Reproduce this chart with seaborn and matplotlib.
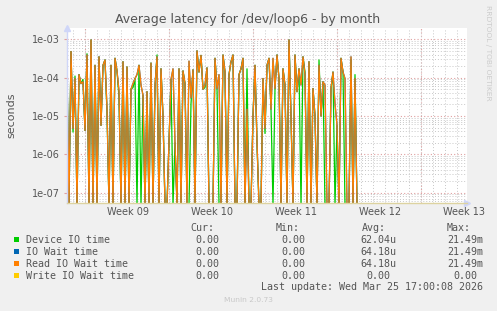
import numpy as np
import pandas as pd
import matplotlib
matplotlib.use("Agg")
import matplotlib.pyplot as plt
from matplotlib.patches import Rectangle
from matplotlib.ticker import LogLocator, NullFormatter
import seaborn as sns

# ---------------- data (4-hour samples) ----------------
step_days = 1.0 / 6.0

read_io_wait = [
    1.6e-4, 0, 4.8e-4, 4.7e-6, 9.5e-5, 0, 1.2e-4, 7.0e-5, 7.8e-5, 4.2e-6,
    3.9e-4, 0, 9.6e-4, 0, 2.1e-4, 0, 3.5e-4, 5.7e-6, 2.1e-4, 2.9e-4,
    1.6e-5, 0, 2.1e-4, 0, 3.2e-4, 1.5e-4, 4.5e-5, 0, 2.6e-4, 0,
    1.9e-4, 0, 5.0e-5, 7.0e-5, 9.5e-5, 1.2e-4, 2.1e-4, 6.4e-5, 3.5e-5, 0,
    4.3e-5, 0, 2.4e-4, 0, 6.4e-5, 3.5e-4, 0, 1.7e-4, 1.0e-5, 0,
    0, 2.1e-6, 9.0e-5, 1.7e-4, 2.0e-6, 0, 1.7e-4, 0, 1.5e-4, 7.0e-5,
    0, 2.7e-4, 3.0e-5, 1.6e-4, 0, 5.0e-4, 1.4e-4, 3.8e-4, 5.0e-5, 6.5e-5,
    1.8e-4, 0, 0, 0, 3.2e-4, 5.2e-5, 1.2e-4, 0, 3.9e-4, 1.4e-4,
    0, 1.2e-4, 2.6e-4, 3.9e-4, 0, 0, 1.2e-4, 1.7e-4, 3.2e-4, 0,
    1.5e-5, 0, 0, 1.0e-5, 2.1e-4, 2.1e-6, 0, 0, 9.5e-5, 4.7e-6,
    2.1e-4, 3.2e-4, 1.5e-5, 3.2e-4, 5.2e-5, 3.9e-4, 9.5e-5, 0, 1.7e-4, 6.4e-5,
    0, 9.6e-4, 1.0e-5, 0, 3.9e-4, 4.3e-5, 1.7e-4, 6.4e-5, 3.5e-4, 1.2e-4,
    0, 2.6e-4, 0, 5.2e-5, 1.0e-5, 0, 2.1e-4, 1.0e-5, 7.8e-5, 6.4e-5,
    0, 0, 5.2e-5, 1.4e-4, 2.1e-5, 5.7e-6, 0, 3.2e-4, 1.4e-4, 9.5e-5,
    0, 0, 3.5e-4, 0, 9.5e-5, 0,
]

device_io_time = [
    1.6e-4, 0, 4.8e-4, 3.8e-6, 1.1e-4, 0, 1.2e-4, 7.0e-5, 9.0e-5, 4.2e-6,
    4.2e-4, 0, 9.6e-4, 0, 2.1e-4, 0, 3.5e-4, 5.7e-6, 2.1e-4, 2.9e-4,
    1.2e-5, 0, 2.1e-4, 0, 3.2e-4, 1.5e-4, 3.0e-5, 0, 2.6e-4, 0,
    1.9e-4, 0, 5.0e-5, 5.5e-5, 9.5e-5, 0, 2.1e-4, 0, 3.5e-5, 0,
    4.3e-5, 0, 2.4e-4, 0, 5.5e-5, 3.9e-4, 0, 1.7e-4, 1.0e-5, 0,
    0, 2.1e-6, 9.0e-5, 0, 2.0e-6, 0, 1.7e-4, 0, 1.5e-4, 7.0e-5,
    0, 0, 2.1e-5, 1.6e-4, 0, 5.0e-4, 1.4e-4, 3.8e-4, 5.0e-5, 5.5e-5,
    1.8e-4, 0, 0, 0, 3.2e-4, 5.2e-5, 0, 0, 3.9e-4, 1.4e-4,
    0, 1.2e-4, 2.6e-4, 3.9e-4, 0, 0, 1.2e-4, 1.7e-4, 3.2e-4, 0,
    1.7e-4, 0, 0, 1.0e-5, 2.1e-4, 1.8e-6, 0, 0, 9.5e-5, 3.5e-6,
    2.1e-4, 3.2e-4, 1.5e-5, 0, 5.2e-5, 3.9e-4, 9.5e-5, 0, 1.7e-4, 6.4e-5,
    0, 9.6e-4, 1.0e-5, 0, 3.9e-4, 4.3e-5, 1.7e-4, 0, 3.5e-4, 1.4e-4,
    0, 2.6e-4, 0, 5.2e-5, 1.0e-5, 0, 2.9e-4, 1.0e-5, 7.8e-5, 0,
    0, 0, 5.2e-5, 1.4e-4, 0, 5.7e-6, 0, 3.2e-4, 1.4e-4, 0,
    0, 0, 2.9e-4, 0, 1.2e-4, 0,
]

io_wait = list(read_io_wait)           # identical to Read IO Wait in the chart
write_io_wait = [0.0] * len(read_io_wait)

series_names = ["Device IO time", "IO Wait time", "Read IO Wait time", "Write IO Wait time"]
series_colors = ["#00CC00", "#0066B3", "#FF8000", "#FFCC00"]
cur_vals = ["0.00", "0.00", "0.00", "0.00"]
min_vals = ["0.00", "0.00", "0.00", "0.00"]
avg_vals = ["62.04u", "64.18u", "64.18u", "0.00"]
max_vals = ["21.49m", "21.49m", "21.49m", "0.00"]

week_labels = ["Week 09", "Week 10", "Week 11", "Week 12", "Week 13"]
week_label_pos = [5.05, 12.05, 19.05, 26.05, 33.05]
week_bounds = [1.5, 8.5, 15.5, 22.5, 29.5]
ytick_vals = [1e-3, 1e-4, 1e-5, 1e-6, 1e-7]
ytick_labels = ["1e-03", "1e-04", "1e-05", "1e-06", "1e-07"]

title = "Average latency for /dev/loop6 - by month"
last_update = "Last update: Wed Mar 25 17:00:08 2026"

# ---------------- build frame ----------------
YMIN, YMAX = 10 ** -7.27, 10 ** -2.705
n = len(read_io_wait)
t = np.arange(n) * step_days
all_series = [device_io_time, io_wait, read_io_wait, write_io_wait]
df = pd.concat(
    [pd.DataFrame({"t": t, "v": np.asarray(s, float), "series": name})
     for name, s in zip(series_names, all_series)],
    ignore_index=True,
)
# like rrdtool: zero values are drawn at the floor of the log axis
df["v_plot"] = df["v"].clip(lower=10 ** -7.32)

# ---------------- figure ----------------
W, H = 497, 311
fig = plt.figure(figsize=(W / 100, H / 100), dpi=100)
fig.patch.set_facecolor("#F0F0F0")
ax = fig.add_axes([67 / W, (H - 203) / H, 400 / W, 175 / H])
ax.set_facecolor("white")

sns.lineplot(data=df, x="t", y="v_plot", hue="series", hue_order=series_names,
             palette=dict(zip(series_names, series_colors)), estimator=None,
             sort=False, legend=False, linewidth=0.9, ax=ax)

ax.set_yscale("log")
ax.set_xlim(0, 400 / 12)
ax.set_ylim(YMIN, YMAX)

# grids
ax.set_axisbelow(True)
ax.set_yticks(ytick_vals, ytick_labels)
ax.yaxis.set_minor_locator(LogLocator(base=10, subs=np.arange(2, 10)))
ax.yaxis.set_minor_formatter(NullFormatter())
ax.set_xticks(week_label_pos, week_labels)
ax.set_xticks(np.arange(0.5, 33.4, 1.0), minor=True)
dot = (0, (1, 2))
ax.grid(which="minor", axis="both", color="#C8C8C8", linestyle=dot, linewidth=0.7)
ax.grid(which="major", axis="y", color="#E0A0A0", linestyle=dot, linewidth=0.8)
ax.grid(which="major", axis="x", visible=False)
for wb in week_bounds:
    ax.axvline(wb, color="#E0A0A0", linestyle=dot, linewidth=0.8, zorder=0.5)

ax.tick_params(axis="x", which="major", length=0, pad=3, labelsize=7, labelcolor="#555555")
ax.tick_params(axis="x", which="minor", length=0)
ax.tick_params(axis="y", which="major", length=2, color="#E0A0A0", pad=3,
               labelsize=7, labelcolor="#555555")
ax.tick_params(axis="y", which="minor", length=0)

for s in ["top", "right"]:
    ax.spines[s].set_visible(False)
ax.spines["left"].set_color("#CFD6F8")
ax.spines["bottom"].set_color("#DDD3A0")
ax.spines["left"].set_linewidth(1)
ax.spines["bottom"].set_linewidth(1)
ax.spines["left"].set_zorder(5)
ax.spines["bottom"].set_zorder(5)
ax.plot([0], [1.0], marker="^", color="#CFD6F8", markersize=4, transform=ax.transAxes,
        clip_on=False)
ax.plot([1.0], [0], marker=">", color="#CFD6F8", markersize=4, transform=ax.transAxes,
        clip_on=False)
ax.set_xlabel("")
ax.set_ylabel("")

# ---------------- texts ----------------
def fx(px):
    return px / W


def fy(py):
    return 1 - py / H


fig.text(fx(247.5), fy(19.5), title, ha="center", va="center", fontsize=9,
         color="#555555", family="DejaVu Sans")
fig.text(fx(11), fy(115), "seconds", ha="center", va="center", rotation=90,
         fontsize=8, color="#555555", family="DejaVu Sans")
fig.text(fx(488), fy(53), "RRDTOOL / TOBI OETIKER", ha="center", va="center",
         rotation=270, fontsize=5.4, color="#CCCCCC", family="DejaVu Sans")

mono = dict(family="DejaVu Sans Mono", fontsize=7.2, color="#555555", va="center")
hy = 228.3
fig.text(fx(190), fy(hy), "Cur:", ha="left", **mono)
fig.text(fx(276), fy(hy), "Min:", ha="left", **mono)
fig.text(fx(361.7), fy(hy), "Avg:", ha="left", **mono)
fig.text(fx(446.7), fy(hy), "Max:", ha="left", **mono)

row_y = [239.7, 251.7, 263.7, 275.7]
for i, name in enumerate(series_names):
    y = row_y[i]
    fig.patches.append(Rectangle((fx(14), fy(y + 2.7)), 5.4 / W, 5.4 / H,
                                 transform=fig.transFigure, facecolor=series_colors[i],
                                 edgecolor="none"))
    fig.text(fx(26), fy(y), name, ha="left", **mono)
    for val, right in [(cur_vals[i], 225.3), (min_vals[i], 311.3),
                       (avg_vals[i], 396.7), (max_vals[i], 483.3)]:
        r = right if val[-1].isalpha() else right - 6.0
        fig.text(fx(r), fy(y), val, ha="right", **mono)

fig.text(fx(483.3), fy(287.3), last_update, ha="right", **mono)
fig.text(fx(248), fy(300.3), "Munin 2.0.73", ha="center", va="center", fontsize=5.4,
         color="#C8C8C8", family="DejaVu Sans")

fig.savefig("out.png", dpi=100, facecolor=fig.get_facecolor())
